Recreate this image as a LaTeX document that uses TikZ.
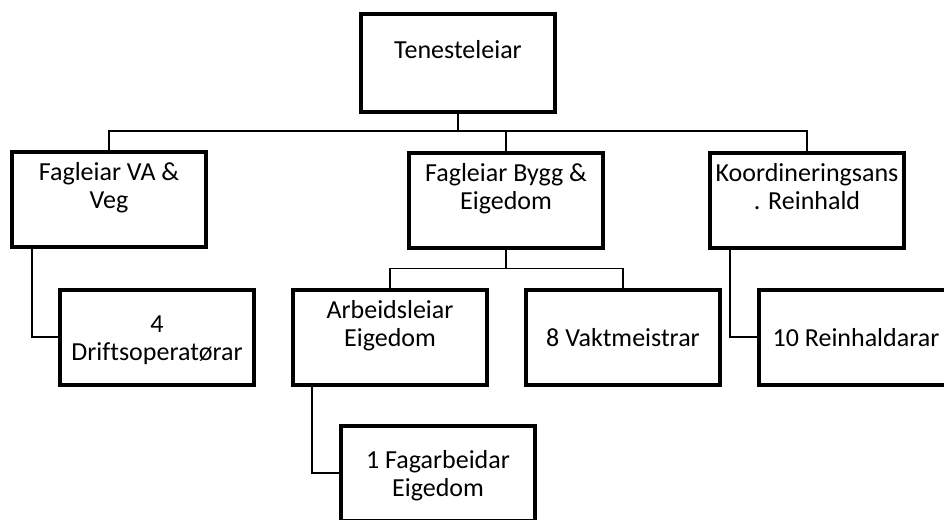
\documentclass[tikz,border=0pt]{standalone}
\usepackage{fontspec}
\setmainfont{Carlito}[Ligatures=NoCommon]
\newcommand{\orgstrut}{\rule[-5pt]{0pt}{28pt}}
\tikzstyle{orgbox} = [
    rectangle,
    draw=black,
    line width=4pt,
    minimum width=194pt,
    minimum height=95pt,
    inner sep=0pt,
    align=center,
    font=\fontsize{26}{28}\selectfont
]
\tikzstyle{link} = [
    line width=1.6pt
]

\begin{document}
\begin{tikzpicture}[x=1pt, y=-1pt]
        \useasboundingbox (0,0) rectangle (944,519);
        \node (ten) [orgbox, minimum height=98pt] at (458,63) {\orgstrut Tenesteleiar\\\orgstrut};
        \node (va) [orgbox] at (109,199) {\orgstrut Fagleiar VA \&\\\orgstrut Veg\\\orgstrut};
        \node (bygg) [orgbox] at (506,200) {\orgstrut Fagleiar Bygg \&\\\orgstrut Eigedom\\\orgstrut};
        \node (koord) [orgbox] at (807,200) {\orgstrut Koordineringsans\\\orgstrut . Reinhald\\\orgstrut};
        \node (drift) [orgbox] at (157,337) {\orgstrut 4\\\orgstrut Driftsoperatørar};
        \node (arb) [orgbox] at (390,337) {\orgstrut Arbeidsleiar\\\orgstrut Eigedom\\\orgstrut};
        \node (vakt) [orgbox] at (623,337) {\orgstrut 8 Vaktmeistrar};
        \node (rein) [orgbox] at (856,337) {\orgstrut 10 Reinhaldarar};
        \node (fag) [orgbox] at (438,473) {\orgstrut 1 Fagarbeidar\\\orgstrut Eigedom};

        \coordinate (tenjoin) at ([yshift=-17pt]ten.south);
        \coordinate (byggjoin) at ([yshift=-19pt]bygg.south);

        \draw[link] (ten.south) -- (tenjoin);
        \draw[link] (va.north) |- (tenjoin) -| (koord.north);
        \draw[link] (tenjoin) -| (bygg.north);
        \draw[link] (bygg.south) -- (byggjoin);
        \draw[link] (arb.north) |- (byggjoin) -| (vakt.north);
        \draw[link] ([xshift=22pt]va.south west) |- (drift.west);
        \draw[link] ([xshift=21pt]arb.south west) |- (fag.west);
        \draw[link] ([xshift=22pt]koord.south west) |- (rein.west);
    \end{tikzpicture}
\end{document}
